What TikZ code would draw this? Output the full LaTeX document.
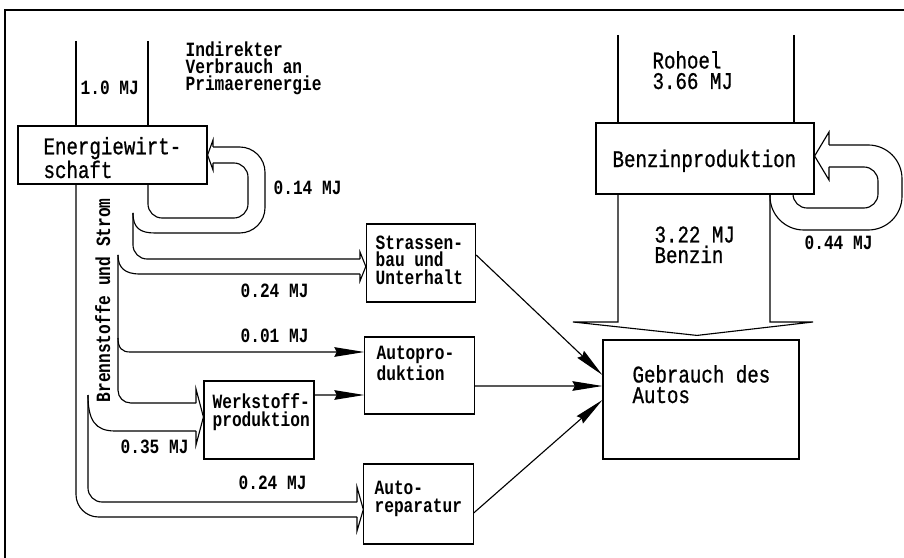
\documentclass[tikz,border=0pt]{standalone}
\usepackage{fontspec}
\usepackage{tikz}
\usetikzlibrary{arrows.meta,calc}
\newfontfamily\plotfont[FakeStretch=0.8]{Liberation Mono}
\newfontfamily\plotfontThick[FakeStretch=0.8,FakeBold=0.8]{Liberation Mono}
\newcommand{\txtBig}{\plotfontThick\fontsize{17}{14.6}\selectfont}
\newcommand{\txtMid}{\plotfont\bfseries\fontsize{14.4}{12.1}\selectfont}

\begin{document}
\begin{tikzpicture}[x=0.025cm,y=-0.025cm,line width=0.8pt,
  box/.style={draw,rectangle,inner sep=0pt},
  midbox/.style={box,minimum width=2.73cm,minimum height=1.95cm},
  big/.style={font=\txtBig,anchor=base west,align=left,inner sep=0pt},
  mid/.style={font=\txtMid,anchor=base west,align=left,inner sep=0pt},
  flow/.style={-{Stealth[length=0.75cm,width=0.24cm,inset=0.06cm]}}]
\useasboundingbox (0,0) rectangle (904,558);
\draw (5,558) -- (5,10) -- (904,10);

% boxes
\node[box,minimum width=4.725cm,minimum height=1.45cm] (Energie) at (112.5,155) {};
\node[box,minimum width=5.45cm,minimum height=1.775cm] (Benzin) at (705,158.5) {};
\node[midbox] (Strasse) at (421,263) {};
\node[midbox,minimum height=1.925cm] (AutoProd) at (419.5,375.5) {};
\node[midbox,minimum width=2.75cm] (Werkstoff) at (259,420) {};
\node[midbox,minimum height=2cm] (AutoRep) at (418.5,504) {};
\node[box,minimum width=4.9cm,minimum height=2.975cm] (Gebrauch) at (701,399.5) {};

% texts, placed at the baseline of their last line
\node[big] (tEnergie) at (43,178) {Energiewirt-\\schaft};
\node[big] (tBenzin) at (612,167) {Benzinproduktion};
\node[big] (tGebrauch) at (632,403) {Gebrauch des\\Autos};
\node[big] (tOel) at (652,89) {Rohoel\\3.66 MJ};
\node[big] (tBz) at (654,263) {3.22 MJ\\Benzin};
\node[mid] (tPrim) at (185,91) {Indirekter\\Verbrauch an\\Primaerenergie};
\node[mid] (tPrimMJ) at (80,95) {1.0 MJ};
\node[mid] (tStrasse) at (375,284) {Strassen-\\bau und\\Unterhalt};
\node[mid] (tAutoProd) at (376,380) {Autopro-\\duktion};
\node[mid] (tWerkstoff) at (212,426) {Werkstoff-\\produktion};
\node[mid] (tAutoRep) at (374,512) {Auto-\\reparatur};
\node[mid] (tLoopE) at (273,195) {0.14 MJ};
\node[mid] (tStrMJ) at (240,297) {0.24 MJ};
\node[mid] (tProdMJ) at (240,343) {0.01 MJ};
\node[mid] (tWerkMJ) at (120,453) {0.35 MJ};
\node[mid] (tRepMJ) at (238,489) {0.24 MJ};
\node[mid] (tLoopB) at (804,250) {0.44 MJ};
\node[mid,rotate=90] (tTrunk) at (110,403) {Brennstoffe und Strom};

% Primaerenergie und Rohoel
\coordinate (PrimL) at (76,41);
\coordinate (PrimR) at (148,41);
\draw (PrimL) -- (PrimL |- Energie.north);
\draw (PrimR) -- (PrimR |- Energie.north);
\coordinate (OelL) at (618,35);
\coordinate (OelR) at (794,35);
\draw (OelL) -- (OelL |- Benzin.north);
\draw (OelR) -- (OelR |- Benzin.north);

% Benzin
\coordinate (BzL) at (618,322);
\coordinate (BzR) at (770,322);
\draw (BzL |- Benzin.south) -- (BzL) -- (573,322) -- ($(Gebrauch.north)+(-4,-4)$) -- (813,322) -- (BzR) -- (BzR |- Benzin.south);
\coordinate (LoopB) at (793,208);
\draw[rounded corners=24] (BzR |- Benzin.south) -- (770,230) -- (902,230) -- (902,145) -- (829,145);
\draw (829,145) -- (829,132) -- ($(Benzin.east)+(0,-2.5)$) -- (829,180) -- (829,167);
\draw[rounded corners=10] (829,167) -- (878,167) -- (878,208) -- (LoopB) -- (LoopB |- Benzin.south);

% Brennstoffe und Strom
\coordinate (Split1) at (133,213);
\coordinate (Split2) at (118,255);
\coordinate (Split3) at (88,395);
\coordinate (Branch) at (118,338);
\draw (Split1) .. controls (133,228) and (140,233) .. (155,233);
\draw[rounded corners=18] (155,233) -- (265,233) -- (265,147) -- (213,147);
\draw (213,147) -- (213,140) -- (Energie.east) -- (213,170) -- (213,163);
\draw[rounded corners=10] (213,163) -- (248,163) -- (248,218) -- (148,218) -- (PrimR |- Energie.south);

\draw[rounded corners=10] (Split1) -- (133,259) -- (360,259);
\draw (Split2) .. controls (118,268) and (125,274) .. (140,274) -- (360,274);
\draw (360,259) -- (360,252) -- ($(Strasse.west)+(0,3.5)$) -- (360,281) -- (360,274);

\draw[rounded corners=9] (Split2) -- (118,403) -- (196,403);
\draw (Split3) .. controls (88,420) and (95,431) .. (115,431) -- (196,431);
\draw (196,403) -- (196,389) -- ($(Werkstoff.west)+(0,-3)$) -- (196,445) -- (196,431);

\draw[flow] (Branch) .. controls (118,348) and (122,352) .. (130,352) -- ($(AutoProd.west)+(0,-23.5)$);

\draw[rounded corners=10] (Split3) -- (88,502) -- (357,502);
\draw[rounded corners=16] (PrimL |- Energie.south) -- (76,517) -- (357,517);
\draw (357,502) -- (357,487) -- ($(AutoRep.west)+(0,5.5)$) -- (357,531) -- (357,517);

\draw[flow] ($(Werkstoff.east)+(0,-25)$) -- ($(AutoProd.west)+(0,19.5)$);
\draw[flow] ($(Strasse.east)+(0,-8)$) -- ($(Gebrauch.west)+(0,-24.5)$);
\draw[flow] ($(AutoProd.east)+(0,10.5)$) -- ($(Gebrauch.west)+(0,-13.5)$);
\draw[flow] ($(AutoRep.east)+(0,9)$) -- ($(Gebrauch.west)+(0,0.5)$);
\end{tikzpicture}
\end{document}
